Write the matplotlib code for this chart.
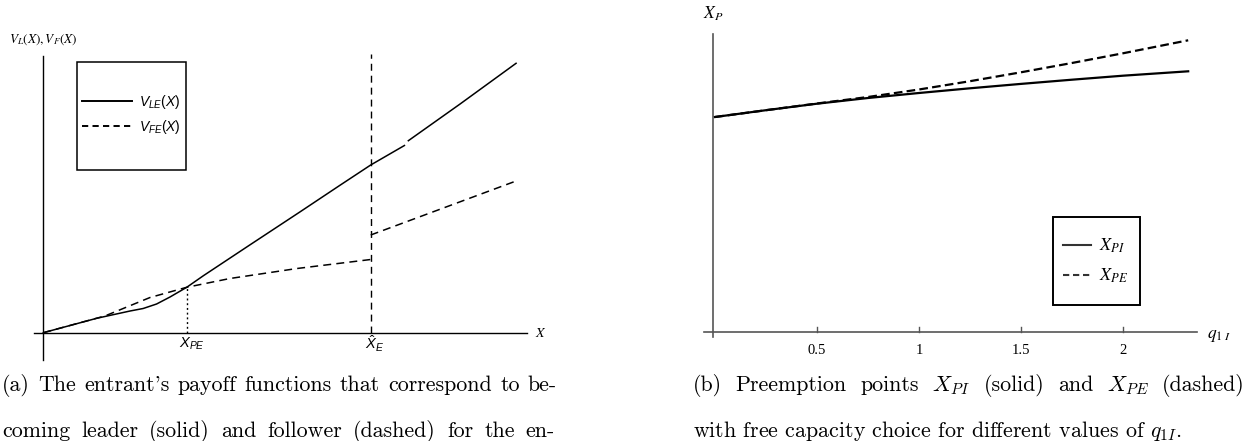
import matplotlib
matplotlib.use('Agg')
import matplotlib.pyplot as plt
from matplotlib.patches import Rectangle

plt.rcParams['mathtext.fontset'] = 'custom'
plt.rcParams['mathtext.rm'] = 'Liberation Sans'
plt.rcParams['mathtext.it'] = 'Liberation Sans:italic'
plt.rcParams['mathtext.bf'] = 'Liberation Sans:bold'

# (a) entrant payoffs, X scaled so that X_hat_E = 1
x_pe = 0.438
x_hat_e = 1.0
lead_x1 = [0, 0.163, 0.265, 0.305, 0.346, 0.387, 0.438, 0.489, 0.631, 0.784, 0.906, 1.0, 1.103]
lead_v1 = [0, 0.144, 0.217, 0.242, 0.287, 0.357, 0.454, 0.570, 0.878, 1.208, 1.474, 1.677, 1.872]
lead_x2 = [1.115, 1.273, 1.444]
lead_v2 = [1.920, 2.287, 2.694]
foll_x1 = [0, 0.188, 0.326, 0.438, 0.570, 0.775, 1.0]
foll_v1 = [0, 0.167, 0.352, 0.454, 0.542, 0.642, 0.732]
foll_x2 = [1.0, 1.444]
foll_v2 = [0.977, 1.517]

# (b) preemption points against q_1I
q1 = [0, 0.25, 0.5, 0.75, 1.0, 1.25, 1.5, 1.75, 2.0, 2.32]
x_pi = [2.150, 2.218, 2.283, 2.340, 2.390, 2.437, 2.481, 2.523, 2.563, 2.607]
x_pe_q = [2.150, 2.218, 2.285, 2.350, 2.425, 2.508, 2.597, 2.690, 2.787, 2.917]
q_ticks = [0.5, 1, 1.5, 2]
q_ticklabels = ['0.5', '1', '1.5', '2']

W, H = 1258, 441
fig = plt.figure(figsize=(W / 100, H / 100), dpi=100)
renderer = fig.canvas.get_renderer()


def fx(x):
    return x / W


def fy(y):
    return 1 - y / H


def caption(words, x0, x1, y, size, justify=True):
    if not justify:
        fig.text(fx(x0), fy(y), ' '.join(words), family='cmr10', fontsize=size,
                 va='baseline', math_fontfamily='cm')
        return
    arts = [fig.text(0, fy(y), w, family='cmr10', fontsize=size, va='baseline',
                     math_fontfamily='cm') for w in words]
    widths = [a.get_window_extent(renderer).width for a in arts]
    gap = (x1 - x0 - sum(widths)) / (len(arts) - 1)
    x = x0
    for a, w in zip(arts, widths):
        a.set_x(fx(x))
        x += w + gap


# ---- (a) ----
ax1 = fig.add_axes([fx(20), fy(370), 540 / W, 330 / H])
ax1.set_xlim(-0.0712, 1.5782)
ax1.set_ylim(-0.373, 2.927)
ax1.axis('off')

ax1.plot([-0.028, 1.477], [0, 0], color='black', lw=1.0)
ax1.plot([0, 0], [-0.273, 2.767], color='black', lw=1.0)

ax1.plot(lead_x1, lead_v1, color='black', lw=1.1)
ax1.plot(lead_x2, lead_v2, color='black', lw=1.1)
ax1.plot(foll_x1, foll_v1, color='black', lw=1.1, ls=(0, (5.2, 3.4)))
ax1.plot(foll_x2, foll_v2, color='black', lw=1.1, ls=(0, (5.2, 3.4)))
ax1.plot([x_hat_e, x_hat_e], [0, 2.787], color='black', lw=1.0, ls=(0, (5, 3.6)))
ax1.plot([x_pe, x_pe], [0, 0.454], color='black', lw=1.0, ls=(0, (1.4, 2.0)))

ax1.text(x_pe + 0.015, -0.11, r'$X_{PE}$', ha='center', va='center', fontsize=10.5)
ax1.text(x_hat_e + 0.011, -0.11, r'$\hat{X}_E$', ha='center', va='center', fontsize=10.5)
ax1.text(1.52, 0, r'$X$', ha='center', va='center', fontsize=10, math_fontfamily='stix')
fig.text(fx(43), fy(40), r'$V_L(X),V_F(X)$', ha='center', va='center',
         fontsize=9.5, math_fontfamily='stix')

fig.add_artist(Rectangle((fx(77), fy(170)), 109 / W, 108 / H, transform=fig.transFigure,
                         fill=False, ec='black', lw=1.1))
fig.add_artist(plt.Line2D([fx(82), fx(132)], [fy(101), fy(101)], color='black', lw=1.4))
fig.add_artist(plt.Line2D([fx(82), fx(132)], [fy(126), fy(126)], color='black', lw=1.4,
                          ls=(0, (3.2, 2.2))))
fig.text(fx(139), fy(102), r'$V_{LE}(X)$', va='center', fontsize=10)
fig.text(fx(139), fy(127), r'$V_{FE}(X)$', va='center', fontsize=10)

# ---- (b) ----
ax2 = fig.add_axes([fx(700), fy(345), 530 / W, 325 / H])
ax2.set_xlim(-0.0735, 2.525)
ax2.set_ylim(-0.13, 3.12)
ax2.axis('off')

grey = '#555555'
ax2.plot([-0.054, 2.363], [0, 0], color=grey, lw=1.2)
ax2.plot([-0.0098, -0.0098], [-0.05, 2.98], color=grey, lw=1.2)
for q, lab in zip(q_ticks, q_ticklabels):
    ax2.plot([q, q], [0, 0.05], color=grey, lw=1.0)
    ax2.text(q, -0.18, lab, ha='center', va='center', fontsize=10.5,
             family='Liberation Serif')

ax2.plot(q1, x_pi, color='black', lw=1.6)
ax2.plot(q1, x_pe_q, color='black', lw=1.6, ls=(0, (3.9, 1.9)))

fig.text(fx(713), fy(14), r'$X_P$', ha='center', va='center', fontsize=12.5,
         math_fontfamily='stix')
fig.text(fx(1207), fy(335), r'$q_{1\ I}$', ha='left', va='center', fontsize=12.5,
         math_fontfamily='stix')

fig.add_artist(Rectangle((fx(1053), fy(305)), 87 / W, 88 / H, transform=fig.transFigure,
                         fill=False, ec='black', lw=1.4))
fig.add_artist(plt.Line2D([fx(1063), fx(1091)], [fy(245), fy(245)], color='#333333', lw=1.5))
fig.add_artist(plt.Line2D([fx(1063), fx(1091)], [fy(275), fy(275)], color='#333333', lw=1.5,
                          ls=(0, (3.0, 1.8))))
fig.text(fx(1099), fy(246), r'$X_{PI}$', va='center', fontsize=13, math_fontfamily='stix')
fig.text(fx(1099), fy(276), r'$X_{PE}$', va='center', fontsize=13, math_fontfamily='stix')

# ---- captions ----
# size the caption font so the first line of (a) fills its column width
first = "(a) The entrant's payoff functions that correspond to be-"
probe = fig.text(0, 0, first, family='cmr10', fontsize=12)
cap_size = 12 * 548 / probe.get_window_extent(renderer).width
probe.remove()

caption(first.split(), 2, 557, 391, cap_size)
caption("coming leader (solid) and follower (dashed) for the en-".split(), 2, 555, 437, cap_size)
caption(r"(b) Preemption points $X_{PI}$ (solid) and $X_{PE}$ (dashed)".split(), 693, 1245, 391,
        cap_size)
caption(r"with free capacity choice for different values of $q_{1I}$.".split(), 693, 0, 437,
        cap_size, justify=False)

fig.savefig('out.png', dpi=100)
